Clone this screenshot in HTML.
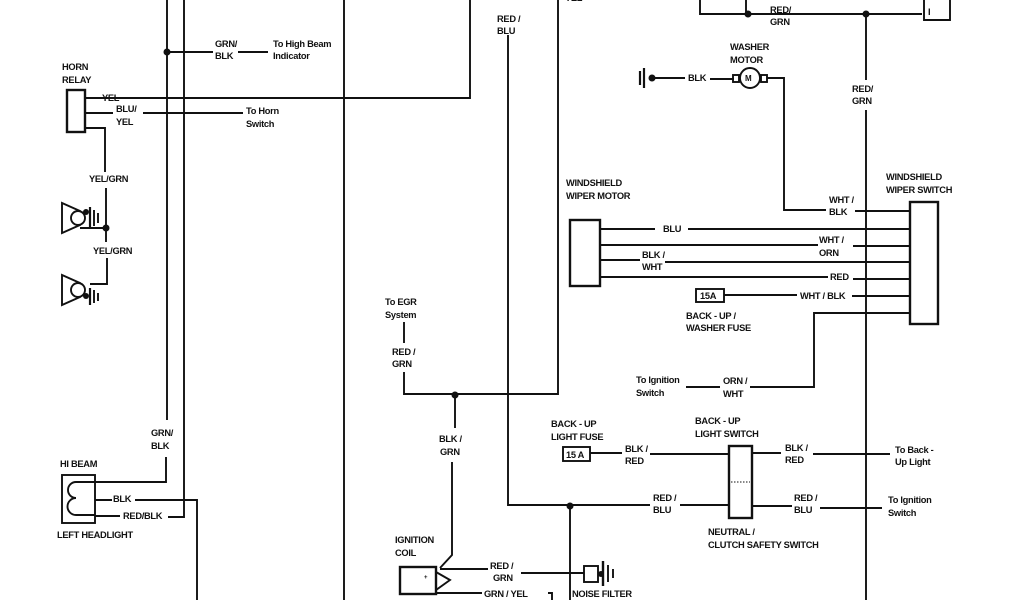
<!DOCTYPE html>
<html><head><meta charset="utf-8"><style>
html,body{margin:0;padding:0;background:#fff;}
svg{display:block;}
text{font-family:"Liberation Sans",Arial,sans-serif;font-weight:bold;font-size:9.3px;fill:#111;letter-spacing:-0.3px;}
</style></head><body>
<svg width="1024" height="600" viewBox="0 0 1024 600" xmlns="http://www.w3.org/2000/svg">
<g stroke="#111" stroke-width="1.9" fill="none">
<line x1="167" y1="0" x2="167" y2="420"/>
<polyline points="166,457 166,482 95,482"/>
<polyline points="184,0 184,517 168,517"/>
<line x1="344" y1="0" x2="344" y2="600"/>
<polyline points="470,0 470,98 85,98"/>
<line x1="85" y1="113" x2="113" y2="113"/>
<line x1="143" y1="113" x2="243" y2="113"/>
<line x1="167" y1="52" x2="213" y2="52"/>
<line x1="238" y1="52" x2="268" y2="52"/>
<rect x="67" y="90" width="18" height="42" stroke-width="2.4"/>
<polyline points="85,128 105,128 105,172"/>
<line x1="106" y1="188" x2="106" y2="242"/>
<polyline points="107,258 107,284 90,284"/>
<line x1="80" y1="228" x2="106" y2="228"/>
<polygon points="62,203 62,233 80,225 80,211"/>
<circle cx="78" cy="218" r="7" fill="#fff"/>
<line x1="90" y1="207" x2="90" y2="229" stroke-width="2.2"/>
<line x1="94" y1="210" x2="94" y2="226"/><line x1="98" y1="213" x2="98" y2="223"/>
<polygon points="62,275 62,305 80,297 80,283"/>
<circle cx="78" cy="290" r="7" fill="#fff"/>
<line x1="90" y1="288" x2="90" y2="305" stroke-width="2.2"/>
<line x1="94" y1="290" x2="94" y2="303"/><line x1="98" y1="293" x2="98" y2="301"/>
<rect x="62" y="475" width="33" height="48"/>
<path d="M95,482 H76 a7,7 0 0 0 0,16 a7,7 0 0 0 0,17 H95"/>
<line x1="95" y1="500" x2="112" y2="500"/>
<polyline points="135,500 197,500 197,600"/>
<line x1="95" y1="516" x2="120" y2="516"/>
<polyline points="508,35 508,505 650,505"/>
<line x1="680" y1="505" x2="729" y2="505"/>
<line x1="570" y1="505" x2="570" y2="600"/>
<polyline points="558,0 558,394 404,394 404,372"/>
<line x1="404" y1="343" x2="404" y2="322"/>
<line x1="455" y1="394" x2="455" y2="428"/>
<polyline points="452,462 452,555 440,568"/>
<rect x="400" y="567" width="36" height="27" stroke-width="2.4"/>
<polygon points="436,572 450,580 436,590"/>
<line x1="440" y1="569" x2="488" y2="569"/>
<line x1="521" y1="573" x2="584" y2="573"/>
<line x1="436" y1="593" x2="482" y2="593"/>
<polyline points="548,593 552,593 552,600"/>
<rect x="584" y="566" width="14" height="16"/>
<line x1="603" y1="561" x2="603" y2="586" stroke-width="2.4"/>
<line x1="608" y1="565" x2="608" y2="582"/><line x1="613" y1="569" x2="613" y2="578"/>
<polyline points="700,0 700,14 922,14"/>
<line x1="746" y1="0" x2="746" y2="14"/>
<polyline points="924,0 924,20 950,20 950,0"/>
<line x1="866" y1="14" x2="866" y2="80"/>
<line x1="866" y1="110" x2="866" y2="600"/>
<line x1="640" y1="71" x2="640" y2="85" stroke-width="2.2"/><line x1="644" y1="68" x2="644" y2="88" stroke-width="2.2"/>
<line x1="652" y1="78" x2="685" y2="78"/>
<line x1="710" y1="79" x2="734" y2="79"/>
<rect x="733" y="75" width="6" height="7"/>
<circle cx="750" cy="78" r="10"/>
<rect x="761" y="75" width="6" height="7"/>
<polyline points="767,78 784,78 784,210 826,210"/>
<line x1="855" y1="211" x2="910" y2="211"/>
<rect x="910" y="202" width="28" height="122" stroke-width="2.4"/>
<rect x="570" y="220" width="30" height="66" stroke-width="2.4"/>
<line x1="600" y1="229" x2="655" y2="229"/><line x1="688" y1="229" x2="910" y2="229"/>
<line x1="600" y1="245" x2="818" y2="245"/><line x1="853" y1="246" x2="910" y2="246"/>
<line x1="600" y1="260" x2="640" y2="260"/><line x1="665" y1="262" x2="910" y2="262"/>
<line x1="600" y1="277" x2="828" y2="277"/><line x1="853" y1="279" x2="910" y2="279"/>
<rect x="696" y="289" width="28" height="13"/>
<line x1="724" y1="295" x2="797" y2="295"/><line x1="852" y1="296" x2="910" y2="296"/>
<polyline points="750,387 814,387 814,313 910,313"/>
<line x1="686" y1="387" x2="720" y2="387"/>
<rect x="563" y="447" width="27" height="14"/>
<line x1="590" y1="453" x2="622" y2="453"/>
<line x1="650" y1="454" x2="729" y2="454"/>
<rect x="729" y="446" width="23" height="72" stroke-width="2.4"/>
<line x1="731" y1="482" x2="750" y2="482" stroke-dasharray="1.5,1.5" stroke-width="1"/>
<line x1="752" y1="453" x2="781" y2="453"/>
<line x1="813" y1="454" x2="890" y2="454"/>
<line x1="752" y1="506" x2="792" y2="506"/>
<line x1="820" y1="508" x2="882" y2="508"/>
</g>
<g fill="#111">
<circle cx="167" cy="52" r="3.5"/><circle cx="106" cy="228" r="3.5"/>
<circle cx="86" cy="212" r="3"/><circle cx="86" cy="296" r="3"/>
<circle cx="455" cy="395" r="3.5"/><circle cx="570" cy="506" r="3.5"/>
<circle cx="748" cy="14" r="3.5"/><circle cx="866" cy="14" r="3.5"/>
<circle cx="652" cy="78" r="3.5"/><circle cx="601" cy="574" r="3"/>
</g>
<text x="928" y="15">I</text>
<text x="497" y="22">RED /</text><text x="497" y="34">BLU</text>
<text x="565" y="1">YEL</text>
<text x="215" y="47">GRN/</text><text x="215" y="59">BLK</text>
<text x="273" y="47">To High Beam</text><text x="273" y="59">Indicator</text>
<text x="62" y="70">HORN</text><text x="62" y="83">RELAY</text>
<text x="102" y="101">YEL</text>
<text x="116" y="112">BLU/</text><text x="116" y="125">YEL</text>
<text x="246" y="114">To Horn</text><text x="246" y="127">Switch</text>
<text x="89" y="182">YEL/GRN</text>
<text x="93" y="254">YEL/GRN</text>
<text x="151" y="436">GRN/</text><text x="151" y="449">BLK</text>
<text x="60" y="467">HI BEAM</text>
<text x="113" y="502">BLK</text>
<text x="123" y="519">RED/BLK</text>
<text x="57" y="538">LEFT HEADLIGHT</text>
<text x="385" y="305">To EGR</text><text x="385" y="318">System</text>
<text x="392" y="355">RED /</text><text x="392" y="367">GRN</text>
<text x="439" y="442">BLK /</text><text x="440" y="455">GRN</text>
<text x="395" y="543">IGNITION</text><text x="395" y="556">COIL</text>
<text x="424" y="579" style="font-size:6px">+</text>
<text x="490" y="569">RED /</text><text x="493" y="581">GRN</text>
<text x="484" y="597">GRN / YEL</text>
<text x="572" y="597">NOISE FILTER</text>
<text x="770" y="13">RED/</text><text x="770" y="25">GRN</text>
<text x="852" y="92">RED/</text><text x="852" y="104">GRN</text>
<text x="730" y="50">WASHER</text><text x="730" y="63">MOTOR</text>
<text x="688" y="81">BLK</text>
<text x="745" y="81" style="font-size:8px">M</text>
<text x="886" y="180">WINDSHIELD</text><text x="886" y="193">WIPER SWITCH</text>
<text x="566" y="186">WINDSHIELD</text><text x="566" y="199">WIPER MOTOR</text>
<text x="829" y="203">WHT /</text><text x="829" y="215">BLK</text>
<text x="663" y="232">BLU</text>
<text x="819" y="243">WHT /</text><text x="819" y="256">ORN</text>
<text x="642" y="258">BLK /</text><text x="642" y="270">WHT</text>
<text x="830" y="280">RED</text>
<text x="700" y="299">15A</text>
<text x="800" y="299">WHT / BLK</text>
<text x="686" y="319">BACK  - UP /</text><text x="686" y="331">WASHER FUSE</text>
<text x="636" y="383">To Ignition</text><text x="636" y="396">Switch</text>
<text x="723" y="384">ORN /</text><text x="723" y="397">WHT</text>
<text x="551" y="427">BACK - UP</text><text x="551" y="440">LIGHT FUSE</text>
<text x="566" y="458">15 A</text>
<text x="625" y="452">BLK /</text><text x="625" y="464">RED</text>
<text x="695" y="424">BACK - UP</text><text x="695" y="437">LIGHT SWITCH</text>
<text x="785" y="451">BLK /</text><text x="785" y="463">RED</text>
<text x="895" y="453">To Back -</text><text x="895" y="465">Up Light</text>
<text x="653" y="501">RED /</text><text x="653" y="513">BLU</text>
<text x="794" y="501">RED /</text><text x="794" y="513">BLU</text>
<text x="888" y="503">To Ignition</text><text x="888" y="516">Switch</text>
<text x="708" y="535">NEUTRAL /</text><text x="708" y="548">CLUTCH SAFETY SWITCH</text>
</svg>
</body></html>
